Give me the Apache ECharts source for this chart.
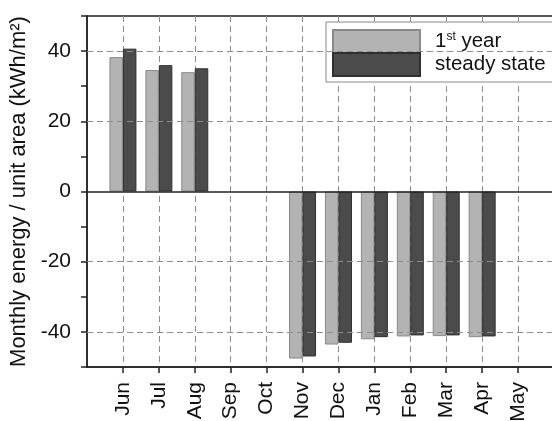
<!DOCTYPE html>
<html><head><meta charset="utf-8">
<script src="https://cdn.jsdelivr.net/npm/echarts@6/dist/echarts.min.js"></script>
<style>html,body{margin:0;padding:0;background:#fff}#c{width:552px;height:421px}</style>
</head><body><div id="c"></div>
<script>
var months = ['Jun','Jul','Aug','Sep','Oct','Nov','Dec','Jan','Feb','Mar','Apr','May'];
var firstYear = [38.3, 34.6, 34.0, null, null, -47.6, -43.6, -42.1, -41.3, -41.2, -41.5, null];
var steadyState = [40.7, 36.0, 35.1, null, null, -47.0, -43.1, -41.5, -41.0, -41.0, -41.3, null];
var yGridLines = [-40, -20, 20, 40];

var FONT = 'Liberation Sans, Arial, sans-serif';
var cats = [''].concat(months, ['']);
function pad(a){ return [null].concat(a, [null]); }

var chart = echarts.init(document.getElementById('c'));
chart.setOption({
  animation: false,
  grid: { left: 87, right: -2, top: 16, bottom: 54, containLabel: false, outerBoundsMode: 'none',
    show: true, borderColor: '#222', borderWidth: 1.5, backgroundColor: 'transparent' },
  legend: {
    orient: 'vertical', left: 326, top: 22, itemGap: -2, itemWidth: 87, itemHeight: 23,
    padding: [7, 7, 5, 6], borderColor: '#888', borderWidth: 1, backgroundColor: '#fff',
    icon: 'rect',
    textStyle: { fontFamily: FONT, fontSize: 20.5, lineHeight: 22, color: '#111', padding: [0,0,0,10],
      rich: { sup: { fontFamily: FONT, fontSize: 12, lineHeight: 14, color: '#111', verticalAlign: 'top', padding: [0,0,8,0] } } },
    formatter: function(n){ return n === '1st year' ? '1{sup|st} year' : n; },
    data: ['1st year', 'steady state']
  },
  xAxis: {
    type: 'category', data: cats, boundaryGap: false,
    axisLine: { onZero: false, lineStyle: { color: '#222', width: 1.5 } },
    axisTick: { show: true, length: 6, interval: function(i, v){ return v !== ''; }, lineStyle: { color: '#222', width: 1.5 } },
    axisLabel: { rotate: 90, fontFamily: FONT, fontSize: 21, color: '#111', margin: 15, interval: 0 },
    splitLine: { show: true, interval: function(i, v){ return v !== ''; }, lineStyle: { color: '#8c8c8c', type: [6, 4], width: 1 } }
  },
  yAxis: {
    type: 'value', min: -50, max: 50, interval: 10,
    name: 'Monthly energy / unit area (kWh/m²)', nameLocation: 'middle', nameGap: 52,
    nameTextStyle: { fontFamily: FONT, fontSize: 22, color: '#111' },
    axisLine: { show: true, lineStyle: { color: '#222', width: 1.5 } },
    axisTick: { show: true, length: 6, lineStyle: { color: '#222', width: 1.5 } },
    axisLabel: { fontFamily: FONT, fontSize: 21, color: '#111', margin: 16,
      formatter: function(v){ return (v % 20 === 0 && Math.abs(v) < 50) ? String(v) : ''; } },
    splitLine: { show: false }
  },
  series: [
    { name: '1st year', type: 'bar', data: pad(firstYear), barWidth: 13.5, barGap: '0%',
      itemStyle: { color: '#b3b3b3', borderColor: '#8a8a8a', borderWidth: 1 },
      markLine: { silent: true, symbol: 'none', label: { show: false },
        lineStyle: { color: '#8c8c8c', type: [6, 4], width: 1 },
        data: yGridLines.map(function(v){ return { yAxis: v }; }).concat([{ yAxis: 0, lineStyle: { color: '#222', type: 'solid', width: 1.5 } }]) } },
    { name: 'steady state', type: 'bar', data: pad(steadyState), barWidth: 13.5, barGap: '0%',
      itemStyle: { color: '#4b4b4b', borderColor: '#303030', borderWidth: 1 } }
  ]
});
</script></body></html>
